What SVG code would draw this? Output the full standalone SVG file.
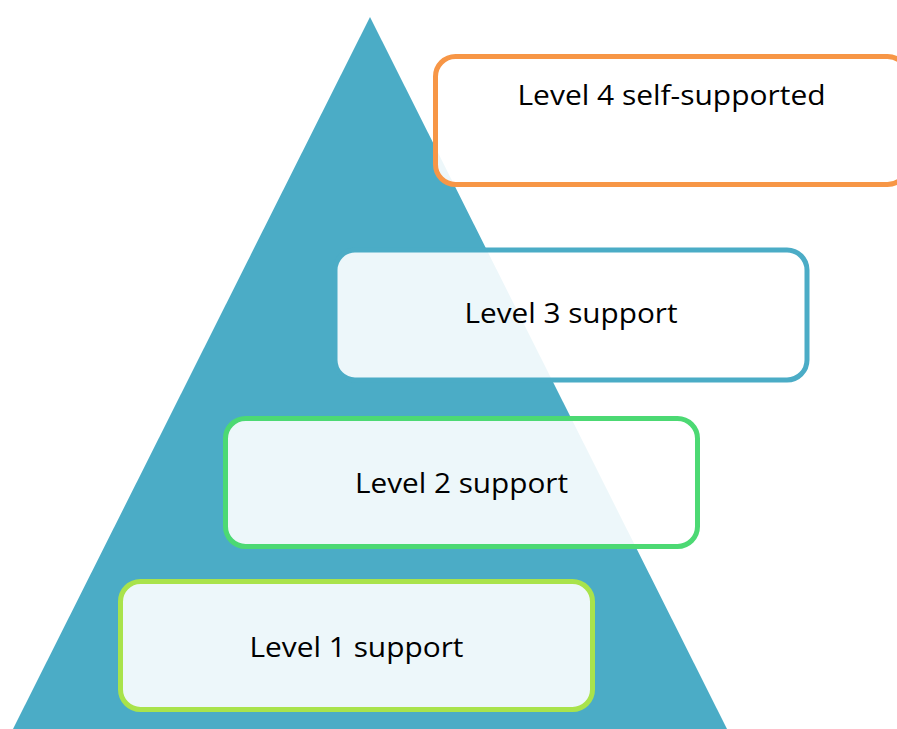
<svg xmlns="http://www.w3.org/2000/svg" width="897" height="729" viewBox="0 0 897 729">
<style>
.box{fill:#ffffff;fill-opacity:0.9;stroke-width:5}
.lbl{font-family:"Open Sans","Noto Sans","Liberation Sans",sans-serif;font-size:28px;fill:#000000;text-anchor:middle}
</style>
<rect width="897" height="729" fill="#ffffff"/>
<g id="pyramid"><polygon points="370,17 727,729 13,729" fill="#4BACC6"/></g>
<g id="connectors"></g>
<g id="level4">
<rect class="box" x="435.5" y="56.5" width="472" height="128" rx="20" stroke="#F79646"/>
<text class="lbl" x="671.5" y="105" textLength="308" lengthAdjust="spacingAndGlyphs">Level 4 self-supported</text>
</g>
<g id="level3">
<rect class="box" x="335" y="250" width="472" height="130" rx="20" stroke="#4BACC6"/>
<text class="lbl" x="571" y="323" textLength="213" lengthAdjust="spacingAndGlyphs">Level 3 support</text>
</g>
<g id="level2">
<rect class="box" x="225.5" y="418.5" width="472" height="128" rx="20" stroke="#4CD973"/>
<text class="lbl" x="461.5" y="493" textLength="213" lengthAdjust="spacingAndGlyphs">Level 2 support</text>
</g>
<g id="level1">
<rect class="box" x="120.5" y="581.5" width="472" height="128" rx="20" stroke="#A9E34B"/>
<text class="lbl" x="356.5" y="657" textLength="214" lengthAdjust="spacingAndGlyphs">Level 1 support</text>
</g>
</svg>
